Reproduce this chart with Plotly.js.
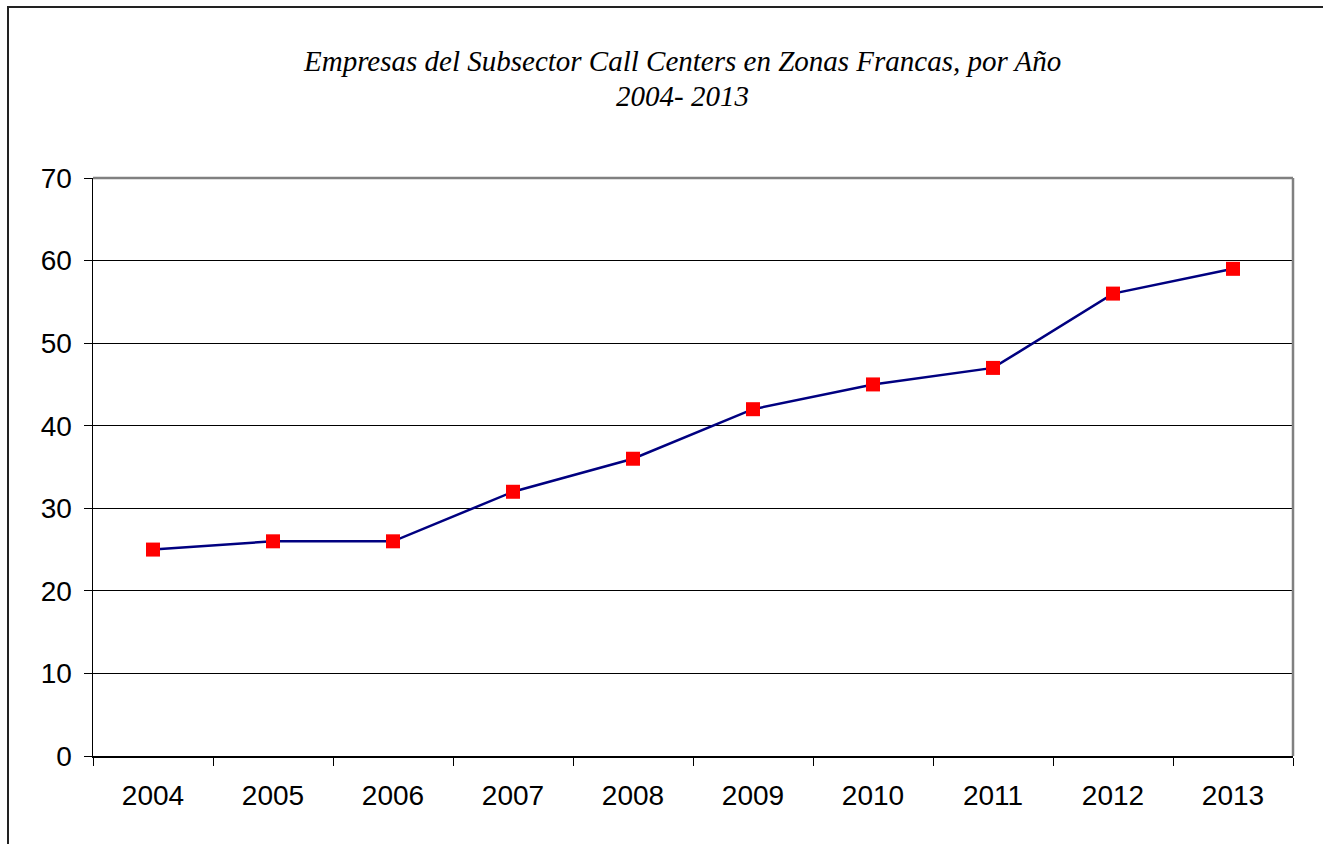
<!DOCTYPE html>
<html>
<head>
<meta charset="utf-8">
<script src="https://cdn.plot.ly/plotly-3.0.1.min.js"></script>
<style>
  html, body { margin: 0; padding: 0; background: #fff; overflow: hidden; }
  #frame { position: absolute; left: 7px; top: 6px; width: 1314px; height: 850px;
           border-left: 2px solid #222; border-top: 2px solid #222; border-right: 1px solid #ddd; }
  #myGraph { position: absolute; left: 0; top: 0; width: 1323px; height: 844px; }
</style>
</head>
<body>
<div id="frame"></div>
<div id="myGraph"></div>
<script>
"use strict";

// chart data
var years = ['2004', '2005', '2006', '2007', '2008', '2009', '2010', '2011', '2012', '2013'];
var empresas = [25, 26, 26, 32, 36, 42, 45, 47, 56, 59];
var titleLine1 = 'Empresas del Subsector Call Centers en Zonas Francas, por Año';
var titleLine2 = '2004- 2013';

// plot data
function plotData(id) {
    var line1 = {
        x: years,
        y: empresas,
        type: 'scatter',
        mode: 'lines+markers',
        line: {color: '#000080', width: 2.5},
        marker: {symbol: 'square', size: 14, color: '#ff0000'},
        hoverinfo: 'x+y'
    };
    var tickFont = {family: 'Liberation Sans, Arial, sans-serif', size: 28, color: '#000'};
    var titleFont = {family: 'Liberation Serif, Times New Roman, serif', size: 29, color: '#000'};
    var layout = {
        width: 1323,
        height: 844,
        margin: {l: 93, r: 30, t: 178, b: 88, pad: 0},
        paper_bgcolor: 'rgba(0,0,0,0)',
        plot_bgcolor: '#fff',
        showlegend: false,
        xaxis: {
            type: 'category',
            range: [-0.5, years.length - 0.5],
            tickson: 'boundaries',
            ticks: 'outside',
            ticklen: 8,
            tickcolor: '#000',
            tickwidth: 1,
            showline: true,
            linecolor: '#000',
            linewidth: 1.5,
            showgrid: false,
            zeroline: false,
            tickfont: tickFont,
            ticklabelstandoff: 14,
            fixedrange: true
        },
        yaxis: {
            range: [0, 70],
            dtick: 10,
            ticks: 'outside',
            ticklen: 8,
            tickcolor: '#000',
            tickwidth: 1,
            showline: true,
            linecolor: '#000',
            linewidth: 1.5,
            showgrid: true,
            gridcolor: '#000',
            gridwidth: 1,
            zeroline: false,
            tickfont: tickFont,
            ticklabelstandoff: 6,
            fixedrange: true
        },
        shapes: [
            // grey top and right frame of the plot area
            {type: 'line', xref: 'paper', yref: 'paper', x0: 0, x1: 1, y0: 1, y1: 1,
             line: {color: '#808080', width: 2.5}},
            {type: 'line', xref: 'paper', yref: 'paper', x0: 1, x1: 1, y0: 0, y1: 1,
             line: {color: '#808080', width: 2.5}}
        ],
        annotations: [
            {text: '<i>' + titleLine1 + '</i>', xref: 'paper', yref: 'paper',
             x: 0.491, y: 1.202, xanchor: 'center', yanchor: 'middle',
             showarrow: false, font: titleFont},
            {text: '<i>' + titleLine2 + '</i>', xref: 'paper', yref: 'paper',
             x: 0.491, y: 1.142, xanchor: 'center', yanchor: 'middle',
             showarrow: false, font: titleFont}
        ]
    };
    Plotly.newPlot(id, [line1], layout, {displayModeBar: false, staticPlot: true});
}

plotData('myGraph');
</script>
</body>
</html>
